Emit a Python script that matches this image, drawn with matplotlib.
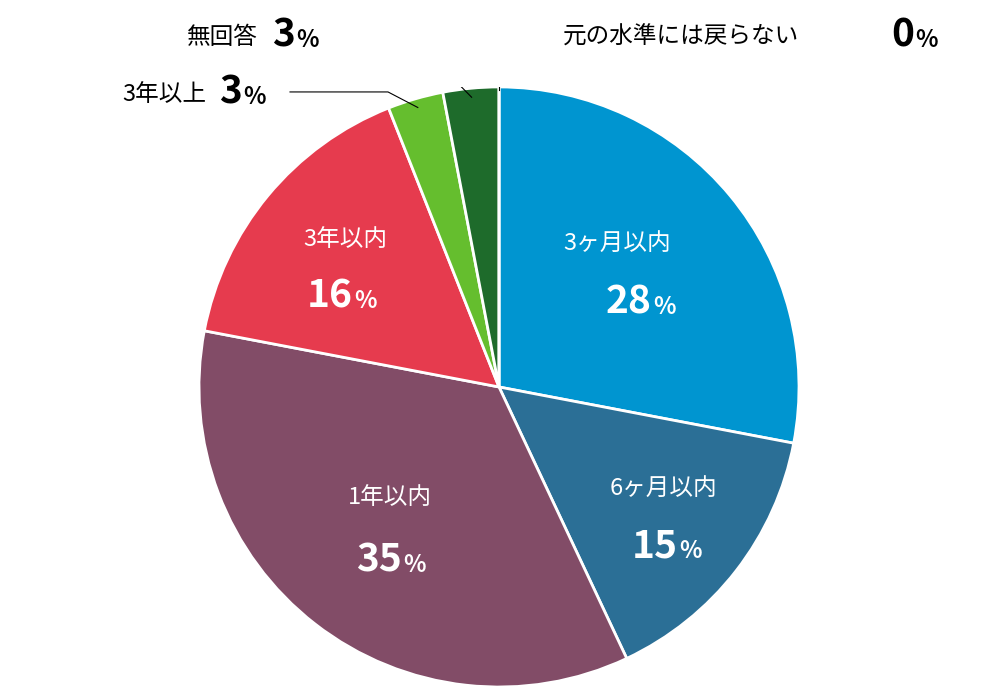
import numpy as np
import matplotlib
matplotlib.use("Agg")
import matplotlib.pyplot as plt

categories = ["3ヶ月以内", "6ヶ月以内", "1年以内", "3年以内", "3年以上", "無回答", "元の水準には戻らない"]
values = [28, 15, 35, 16, 3, 3, 0]
colors = ["#0095d0", "#2b6f96", "#824c67", "#e63b4e", "#65be2e", "#1e6b2b", "#1e6b2b"]

JP = "Noto Sans CJK JP"
fig = plt.figure(figsize=(10, 6.95), dpi=100)
ax = fig.add_axes([0.199, 0.0115, 0.6, 0.8634])

wedges, _ = ax.pie(values, colors=colors, startangle=90, counterclock=False, radius=1.0,
                   wedgeprops=dict(edgecolor="white", linewidth=2))
ax.set_xlim(-1, 1); ax.set_ylim(-1, 1); ax.set_aspect("equal", adjustable="datalim"); ax.axis("off")
ax.set_xlim(-1, 1); ax.set_ylim(-1, 1)

def P(px, py):
    return ((px - 499) / 300.0, (387 - py) / 300.0)

def num(x, y, n, size, color):
    ax.text(x, y, str(n), fontsize=size, fontweight="bold", color=color, ha="right", va="baseline", family=JP)
    ax.text(x + 0.005, y, "%", fontsize=size * 0.6, fontweight="bold", color=color, ha="left", va="baseline", family=JP)

inside = {0: (617, 243, 652, 314), 1: (663, 488, 678, 558), 2: (390, 498, 402, 572), 3: (345, 240, 353, 308)}
for i, (lx, ly, nx, ny) in inside.items():
    x, y = P(lx, ly)
    ax.text(x, y, categories[i], fontsize=17, color="white", ha="center", va="center", family=JP)
    x, y = P(nx, ny)
    num(x, y, values[i], 28, "white")

def edge_mid(i):
    w = wedges[i]
    a = np.deg2rad((w.theta1 + w.theta2) / 2)
    return 0.97 * np.cos(a), 0.97 * np.sin(a)

# 3年以上
ex, ey = edge_mid(4)
a, b = P(290, 92); c, d = P(388, 92)
ax.plot([a, c, ex], [b, d, ey], color="black", lw=0.8)
x, y = P(206, 101)
ax.text(x, y, categories[4], fontsize=17, ha="right", va="baseline", family=JP)
x, y = P(242, 104)
num(x, y, values[4], 28, "black")
# 無回答
ex, ey = edge_mid(5)
a, b = P(335, 35); c, d = P(410, 35)
ax.plot([a, c, ex], [b, d, ey], color="black", lw=0.8)
x, y = P(258, 44)
ax.text(x, y, categories[5], fontsize=17, ha="right", va="baseline", family=JP)
x, y = P(295, 47)
num(x, y, values[5], 28, "black")
# 元の水準には戻らない
a, b = P(499, 90); c, d = P(499, 35); e, f = P(550, 35)
ax.plot([a, c, e], [b, d, f], color="black", lw=0.8)
x, y = P(563, 44)
ax.text(x, y, categories[6], fontsize=17, ha="left", va="baseline", family=JP)
x, y = P(914, 47)
num(x, y, values[6], 28, "black")

fig.savefig("out.png", dpi=100)
